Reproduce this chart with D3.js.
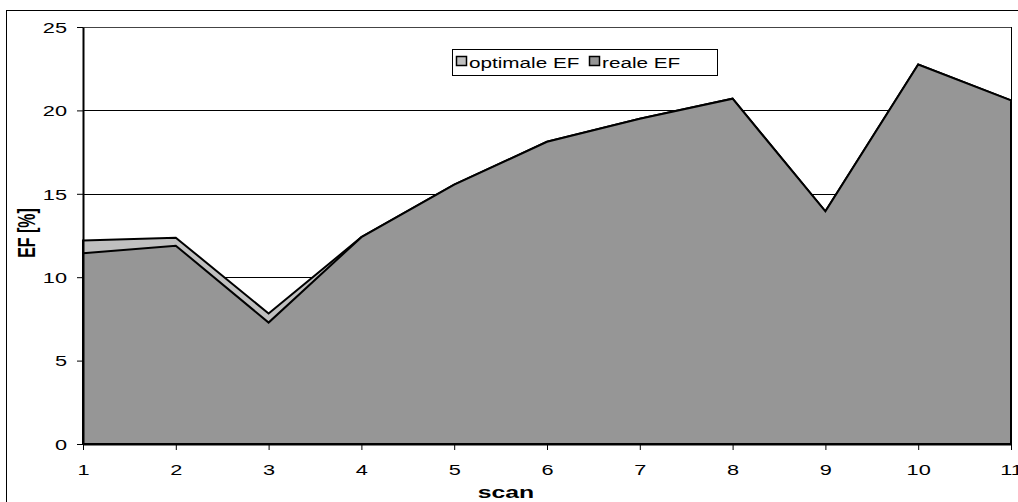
<!DOCTYPE html>
<html>
<head>
<meta charset="utf-8">
<script src="https://cdn.jsdelivr.net/npm/d3@7"></script>
<style>
  html, body { margin: 0; padding: 0; background: #fff; }
  svg { display: block; }
  text { font-family: "Liberation Sans", Arial, sans-serif; fill: #000; }
</style>
</head>
<body>
<div id="chart"></div>
<script>
// EF per scan: optimal vs. real values
const scans = [1, 2, 3, 4, 5, 6, 7, 8, 9, 10, 11];
const optimaleEF = [12.2, 12.37, 7.82, 12.4, 15.55, 18.12, 19.5, 20.7, 13.95, 22.75, 20.6];
const realeEF    = [11.43, 11.89, 7.28, 12.4, 15.55, 18.12, 19.5, 20.7, 13.95, 22.75, 20.6];
const yTicks = [0, 5, 10, 15, 20, 25];
const seriesNames = ["optimale EF", "reale EF"];
const seriesColors = ["#c0c0c0", "#969696"];

const W = 1018, H = 502;
const sx = 1.45; // horizontal glyph stretch used for the labels

const svg = d3.select("#chart").append("svg")
  .attr("width", W).attr("height", H);

// chart frame
svg.append("rect")
  .attr("x", 6.5).attr("y", 10.5)
  .attr("width", W + 10).attr("height", H + 10)
  .attr("fill", "#fff").attr("stroke", "#000").attr("stroke-width", 1);

const x = d3.scaleLinear().domain([1, 11]).range([83, 1011]);
const y = d3.scaleLinear().domain([0, 25]).range([444, 27]);

// horizontal gridlines
svg.append("g").selectAll("line")
  .data(yTicks.filter(t => t > 0))
  .join("line")
  .attr("x1", x(1)).attr("x2", x(11))
  .attr("y1", d => Math.round(y(d)) + 0.5).attr("y2", d => Math.round(y(d)) + 0.5)
  .attr("stroke", d => d === 25 ? "#444" : "#000").attr("stroke-width", 1);

// right border of plot area
svg.append("line")
  .attr("x1", x(11) + 0.5).attr("x2", x(11) + 0.5)
  .attr("y1", y(25)).attr("y2", y(0))
  .attr("stroke", "#000").attr("stroke-width", 1);

// areas: optimal behind, real in front
const area = vals => d3.area()
  .x((d, i) => x(scans[i]))
  .y0(y(0))
  .y1(d => y(d))(vals);

[optimaleEF, realeEF].forEach((vals, k) => {
  svg.append("path")
    .attr("d", area(vals) + "Z")
    .attr("fill", seriesColors[k])
    .attr("stroke", "#000")
    .attr("stroke-width", 2)
    .attr("stroke-linejoin", "miter");
});

// y axis
const yAxis = svg.append("g")
  .attr("transform", `translate(${x(1)},0)`)
  .call(d3.axisLeft(y).tickValues(yTicks).tickSize(6).tickSizeOuter(0));
yAxis.select(".domain").attr("stroke", "#000").attr("stroke-width", 2);
yAxis.selectAll(".tick line").attr("stroke", "#000");
yAxis.selectAll(".tick text")
  .attr("x", null).attr("dy", null)
  .attr("text-anchor", "end")
  .attr("dominant-baseline", "central")
  .attr("font-size", 15)
  .attr("transform", `translate(-16,0) scale(${sx},1)`);

// x axis
const xAxis = svg.append("g")
  .attr("transform", `translate(0,${y(0)})`)
  .call(d3.axisBottom(x).tickValues(scans).tickFormat(d3.format("d")).tickSize(6).tickSizeOuter(0));
xAxis.select(".domain").attr("stroke", "#000").attr("stroke-width", 2);
xAxis.selectAll(".tick line").attr("stroke", "#000");
xAxis.selectAll(".tick text")
  .attr("y", null).attr("dy", null)
  .attr("text-anchor", "middle")
  .attr("font-size", 15)
  .attr("transform", `translate(0,31) scale(${sx},1)`);

// axis titles
svg.append("text")
  .attr("transform", `translate(506,498) scale(1.55,1)`)
  .attr("text-anchor", "middle")
  .attr("font-size", 16).attr("font-weight", "bold")
  .text("scan");

svg.append("text")
  .attr("transform", `translate(35,233) scale(${sx},1) rotate(-90)`)
  .attr("text-anchor", "middle")
  .attr("font-size", 16).attr("font-weight", "bold")
  .text("EF [%]");

// legend
const lg = svg.append("g");
lg.append("rect")
  .attr("x", 452.5).attr("y", 49.5)
  .attr("width", 265).attr("height", 26)
  .attr("fill", "#fff").attr("stroke", "#000").attr("stroke-width", 1);
const legendX = [456, 589];
seriesNames.forEach((name, k) => {
  lg.append("rect")
    .attr("x", legendX[k] + 0.5).attr("y", 56.5)
    .attr("width", 10).attr("height", 9)
    .attr("fill", seriesColors[k]).attr("stroke", "#000").attr("stroke-width", 1.5);
  lg.append("text")
    .attr("transform", `translate(${legendX[k] + 13},68) scale(1.38,1)`)
    .attr("font-size", 15)
    .text(name);
});
</script>
</body>
</html>
